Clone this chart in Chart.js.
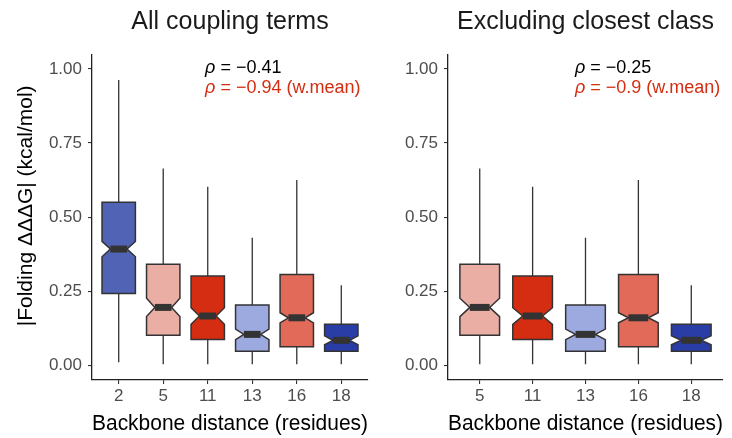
<!DOCTYPE html>
<html>
<head>
<meta charset="utf-8">
<script src="https://cdn.jsdelivr.net/npm/chart.js@4.4.1/dist/chart.umd.min.js"></script>
<style>
  body { margin: 0; background: #fff; }
  .panel { position: absolute; top: 0; height: 438px; }
  #leftPanel { left: 0; width: 380px; }
  #rightPanel { left: 380px; width: 352px; }
</style>
</head>
<body>
<div class="panel" id="leftPanel"><canvas id="leftChart" width="380" height="438"></canvas></div>
<div class="panel" id="rightPanel"><canvas id="rightChart" width="352" height="438"></canvas></div>
<script>
// Left panel: all coupling terms
const leftCats = ['2', '5', '11', '13', '16', '18'];
const leftLow = [0.010, 0.003, 0.003, 0.003, 0.003, 0.003];
const leftQ1 = [0.242, 0.101, 0.087, 0.047, 0.062, 0.047];
const leftMedian = [0.392, 0.195, 0.166, 0.104, 0.160, 0.084];
const leftQ3 = [0.550, 0.341, 0.301, 0.203, 0.306, 0.138];
const leftHigh = [0.963, 0.664, 0.602, 0.430, 0.625, 0.270];
const leftNotch = [0.026, 0.031, 0.028, 0.018, 0.017, 0.015];
const leftColors = ['#5163B5', '#EBAEA5', '#D42D12', '#9DAAE0', '#E26A58', '#2A3DA6'];

// Right panel: excluding closest class
const rightCats = ['5', '11', '13', '16', '18'];
const rightLow = [0.003, 0.003, 0.003, 0.003, 0.003];
const rightQ1 = [0.101, 0.087, 0.047, 0.062, 0.047];
const rightMedian = [0.195, 0.166, 0.104, 0.160, 0.084];
const rightQ3 = [0.341, 0.301, 0.203, 0.306, 0.138];
const rightHigh = [0.664, 0.602, 0.430, 0.625, 0.270];
const rightNotch = [0.031, 0.028, 0.018, 0.017, 0.015];
const rightColors = ['#EBAEA5', '#D42D12', '#9DAAE0', '#E26A58', '#2A3DA6'];

const yTicks = [0, 0.25, 0.5, 0.75, 1.0];
const FONT = "'Liberation Sans', Arial, Helvetica, sans-serif";
const RED = '#D42D12';

// Draws notched boxes, whiskers, medians and the rho labels
function boxPlugin(box) {
    return {
        id: 'notchedBoxes',
        beforeDatasetDraw() {
            return false;
        },
        afterDatasetsDraw(chart) {
            const ctx = chart.ctx;
            const ys = chart.scales.y;
            const xs = chart.scales.x;
            const bars = chart.getDatasetMeta(0).data;
            ctx.save();
            bars.forEach((bar, i) => {
                const cx = bar.x;
                const hw = bar.width / 2;
                const yLo = ys.getPixelForValue(box.low[i]);
                const yHi = ys.getPixelForValue(box.high[i]);
                const y1 = ys.getPixelForValue(box.q1[i]);
                const y3 = ys.getPixelForValue(box.q3[i]);
                const ym = ys.getPixelForValue(box.median[i]);
                const nUp = ys.getPixelForValue(box.median[i] + box.notch[i]);
                const nDn = ys.getPixelForValue(box.median[i] - box.notch[i]);

                ctx.strokeStyle = '#333333';
                ctx.lineWidth = 1.3;
                ctx.beginPath();
                ctx.moveTo(cx, yHi);
                ctx.lineTo(cx, y3);
                ctx.moveTo(cx, y1);
                ctx.lineTo(cx, yLo);
                ctx.stroke();

                ctx.lineWidth = 1.5;
                ctx.beginPath();
                ctx.moveTo(cx - hw, y3);
                ctx.lineTo(cx + hw, y3);
                ctx.lineTo(cx + hw, nUp);
                ctx.lineTo(cx + hw / 2, ym);
                ctx.lineTo(cx + hw, nDn);
                ctx.lineTo(cx + hw, y1);
                ctx.lineTo(cx - hw, y1);
                ctx.lineTo(cx - hw, nDn);
                ctx.lineTo(cx - hw / 2, ym);
                ctx.lineTo(cx - hw, nUp);
                ctx.closePath();
                ctx.fillStyle = box.colors[i];
                ctx.fill();
                ctx.stroke();

                ctx.lineWidth = 7;
                ctx.lineCap = 'butt';
                ctx.beginPath();
                ctx.moveTo(cx - hw / 2, ym);
                ctx.lineTo(cx + hw / 2, ym);
                ctx.stroke();
            });

            // rho labels
            ctx.textBaseline = 'middle';
            ctx.textAlign = 'left';
            box.notes.forEach(note => {
                let x = xs.getPixelForValue(note.x);
                const y = ys.getPixelForValue(note.y);
                ctx.fillStyle = note.color;
                ctx.font = 'italic 18px ' + FONT;
                ctx.fillText('ρ', x, y);
                x += ctx.measureText('ρ').width;
                ctx.font = '18px ' + FONT;
                ctx.fillText(note.text, x, y);
            });
            ctx.restore();
        }
    };
}

function makeChart(canvasId, cats, box, opts) {
    const data = cats.map((c, i) => ({ x: i + 1, y: [box.q1[i], box.q3[i]] }));
    return new Chart(document.getElementById(canvasId), {
        type: 'bar',
        data: {
            datasets: [{
                data: data,
                backgroundColor: box.colors,
                categoryPercentage: 1,
                barPercentage: 0.75
            }]
        },
        options: {
            responsive: false,
            animation: false,
            layout: { padding: { left: 0, right: opts.padRight, top: 0, bottom: 0 } },
            plugins: {
                legend: { display: false },
                tooltip: { enabled: false },
                title: {
                    display: true,
                    text: opts.title,
                    fullSize: false,
                    color: '#1a1a1a',
                    font: { family: FONT, size: 25, weight: 'normal' },
                    padding: { top: 7, bottom: 18 }
                }
            },
            scales: {
                x: {
                    type: 'linear',
                    offset: false,
                    min: 0.4,
                    max: cats.length + 0.6,
                    afterBuildTicks: s => { s.ticks = cats.map((c, i) => ({ value: i + 1 })); },
                    afterFit: s => { s.height = 58; },
                    grid: { display: true, offset: false, drawOnChartArea: false, drawTicks: true, tickLength: 4, color: '#333333', lineWidth: 1.1 },
                    border: { display: true, color: '#222222', width: 1.3 },
                    ticks: {
                        autoSkip: false,
                        maxRotation: 0,
                        padding: 2,
                        color: '#4D4D4D',
                        font: { family: FONT, size: 17 },
                        callback: (v, i) => cats[i]
                    },
                    title: {
                        display: true,
                        text: 'Backbone distance (residues)',
                        color: '#000000',
                        font: { family: FONT, size: 22 },
                        padding: { top: 0, bottom: 1 }
                    }
                },
                y: {
                    min: -0.05,
                    max: 1.047,
                    afterBuildTicks: s => { s.ticks = yTicks.map(v => ({ value: v })); },
                    afterFit: s => { s.width = opts.yWidth; },
                    grid: { display: true, drawOnChartArea: false, drawTicks: true, tickLength: 4, color: '#333333', lineWidth: 1.1 },
                    border: { display: true, color: '#222222', width: 1.3 },
                    ticks: {
                        padding: 6,
                        color: '#4D4D4D',
                        font: { family: FONT, size: 17 },
                        callback: v => v.toFixed(2)
                    },
                    title: {
                        display: opts.yTitle,
                        text: '    |Folding ΔΔΔG| (kcal/mol)',
                        color: '#000000',
                        font: { family: FONT, size: 21 },
                        padding: { top: 14, bottom: 0 }
                    }
                }
            }
        },
        plugins: [boxPlugin(box)]
    });
}

makeChart('leftChart', leftCats, {
    low: leftLow, q1: leftQ1, median: leftMedian, q3: leftQ3, high: leftHigh,
    notch: leftNotch, colors: leftColors,
    notes: [
        { x: 2.94, y: 1.003, text: ' = −0.41', color: '#000000' },
        { x: 2.94, y: 0.936, text: ' = −0.94 (w.mean)', color: RED }
    ]
}, { title: 'All coupling terms', padRight: 12, yWidth: 92, yTitle: true });

makeChart('rightChart', rightCats, {
    low: rightLow, q1: rightQ1, median: rightMedian, q3: rightQ3, high: rightHigh,
    notch: rightNotch, colors: rightColors,
    notes: [
        { x: 2.8, y: 1.003, text: ' = −0.25', color: '#000000' },
        { x: 2.8, y: 0.936, text: ' = −0.9 (w.mean)', color: RED }
    ]
}, { title: 'Excluding closest class', padRight: 9, yWidth: 68, yTitle: false });
</script>
</body>
</html>
